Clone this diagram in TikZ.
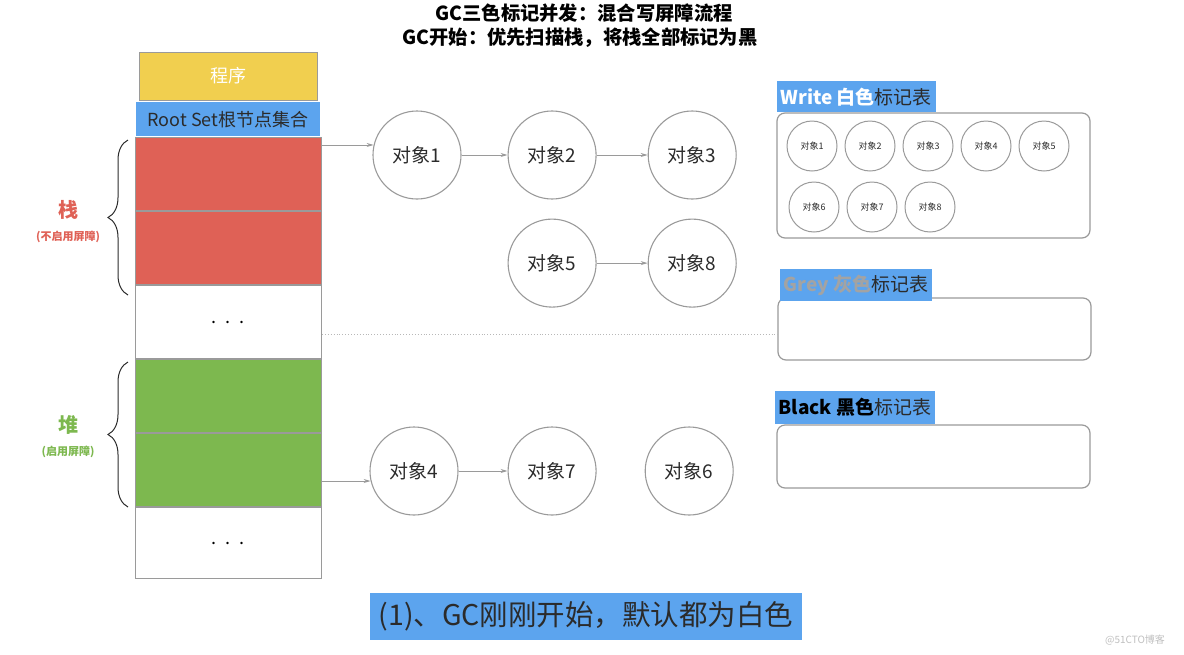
\documentclass[tikz,border=0pt]{standalone}
\usepackage{fontspec}
\setmainfont{Noto Sans CJK SC}
\usetikzlibrary{arrows.meta, positioning, calc, decorations.pathreplacing}
\definecolor{progyellow}{HTML}{F1CF4F}
\definecolor{tagblue}{HTML}{5CA4EE}
\definecolor{stackred}{HTML}{DF6156}
\definecolor{heapgreen}{HTML}{7DB84F}
\definecolor{edgegray}{HTML}{9A9A9A}
\definecolor{inkdark}{HTML}{2B2B2B}
\definecolor{greytext}{HTML}{A3A3A3}
\newcommand{\pxfont}[1]{\fontsize{#1}{#1}\selectfont}
\tikzset{
  cell/.style = {
    rectangle, draw=edgegray, line width=1pt,
    minimum width=186pt, minimum height=73pt, inner sep=0pt,
    font=\pxfont{18}
  },
  obj/.style = {
    circle, draw=edgegray, line width=1.1pt, minimum size=88pt,
    inner sep=0pt, text=inkdark, font=\pxfont{19}
  },
  smallobj/.style = {
    circle, draw=edgegray, line width=1pt, minimum size=50pt,
    inner sep=0pt, text=inkdark, font=\pxfont{9}
  },
  marktable/.style = {
    rectangle, rounded corners=8pt, draw=edgegray, line width=1.2pt,
    minimum width=313pt
  },
  tag/.style = {
    rectangle, fill=tagblue, inner xsep=4pt, inner ysep=0pt,
    minimum height=31pt, font=\pxfont{19}, text=inkdark, anchor=south west
  },
  myarrow/.style = {-{Stealth[length=7pt, width=4pt]}, edgegray, line width=0.9pt},
  sidebrace/.style = {decorate, decoration={brace, amplitude=20pt}, draw=inkdark, line width=1pt}
}

\begin{document}
\begin{tikzpicture}[x=1pt, y=-1pt]
  \useasboundingbox (0,0) rectangle (1184,654);

  % Title
  \node[font=\pxfont{19.3}\bfseries, text=black] (title1) at (584,13) {GC三色标记并发：混合写屏障流程};
  \node[font=\pxfont{19.3}\bfseries, text=black] (title2) at (580,38) {GC开始：优先扫描栈，将栈全部标记为黑};

  % Program, root set, stack and heap
  \node[rectangle, draw=edgegray, fill=progyellow, minimum width=178pt, minimum height=48pt,
        text=white, font=\pxfont{18}] (prog) at (228,76) {程序};
  \node[rectangle, fill=tagblue, minimum width=184pt, minimum height=34pt, inner sep=0pt,
        text=inkdark, font=\pxfont{18}, below=2pt of prog] (root) {Root Set根节点集合};
  \node[cell, fill=stackred, below=0.5pt of root] (s1) {};
  \node[cell, fill=stackred, below=0pt of s1] (s2) {};
  \node[cell, fill=white, below=0pt of s2] (s3) {. \ . \ .};
  \node[cell, fill=heapgreen, below=0pt of s3] (h1) {};
  \node[cell, fill=heapgreen, below=0pt of h1] (h2) {};
  \node[cell, fill=white, minimum height=71pt, below=0pt of h2] (h3) {. \ . \ .};

  % Braces and their labels
  \coordinate (rb1) at (128,295);
  \coordinate (rb2) at (128,140);
  \coordinate (gb1) at (128,507);
  \coordinate (gb2) at (128,362);
  \draw[sidebrace] (rb1) -- (rb2);
  \draw[sidebrace] (gb1) -- (gb2);
  \node[text=stackred, font=\pxfont{20}\bfseries] (stk) at (68,210) {栈};
  \node[text=stackred, font=\pxfont{11}\bfseries, below=4pt of stk] (stknote) {(不启用屏障)};
  \node[text=heapgreen, font=\pxfont{20}\bfseries] (hp) at (68,425) {堆};
  \node[text=heapgreen, font=\pxfont{11}\bfseries, below=4pt of hp] (hpnote) {(启用屏障)};

  % Objects
  \node[obj] (o1) at (417,155) {对象1};
  \node[obj, right=46pt of o1] (o2) {对象2};
  \node[obj, right=51pt of o2] (o3) {对象3};
  \node[obj, below=19pt of o2] (o5) {对象5};
  \node[obj, right=51pt of o5] (o8) {对象8};
  \node[obj] (o4) at (414,471) {对象4};
  \node[obj, right=49pt of o4] (o7) {对象7};
  \node[obj, right=48pt of o7] (o6) {对象6};

  % References
  \draw[myarrow] (s1.east |- o1.167) -- (o1.167);
  \draw[myarrow] (o1) -- (o2);
  \draw[myarrow] (o2) -- (o3);
  \draw[myarrow] (o5) -- (o8);
  \draw[myarrow] (h2.east |- o4.193) -- (o4.193);
  \draw[myarrow] (o4) -- (o7);

  % Mark tables
  \node[marktable, minimum height=125pt] (wtab) at (933.5,175.5) {};
  \node[tag] (wtag) at (wtab.north west) {\textbf{\color{white}Write 白色}标记表};
  \foreach \i in {1,...,5}
    \node[smallobj] (w\i) at ({754+58*\i},146) {对象\i};
  \foreach \i in {6,7,8}
    \node[smallobj] (w\i) at ({466+58*\i},207) {对象\i};

  \node[marktable, minimum height=62pt] (gtab) at (934.5,329) {};
  \node[tag, minimum height=32pt] (gtag) at ($(gtab.north west)+(2,4)$) {\textbf{\color{greytext}Grey 灰色}标记表};

  \node[marktable, minimum height=63pt] (btab) at (933.5,456.5) {};
  \node[tag, minimum height=33pt] (btag) at ($(btab.north west)+(-2,0)$) {\textbf{\color{black}Black 黑色}标记表};

  % Divider between stack and heap
  \coordinate (dl) at (322,334);
  \draw[edgegray!70, dotted, line width=0.9pt] (dl) -- (dl -| gtab.west);

  % Caption
  \node[rectangle, fill=tagblue, minimum height=47pt, inner xsep=9pt,
        text=inkdark, font=\pxfont{28.5}] (cap) at (586,616) {(1)、GC刚刚开始，默认都为白色};

  \node[text=black!25, font=\pxfont{10}] (mark) at (1135,640) {@51CTO博客};
\end{tikzpicture}
\end{document}
